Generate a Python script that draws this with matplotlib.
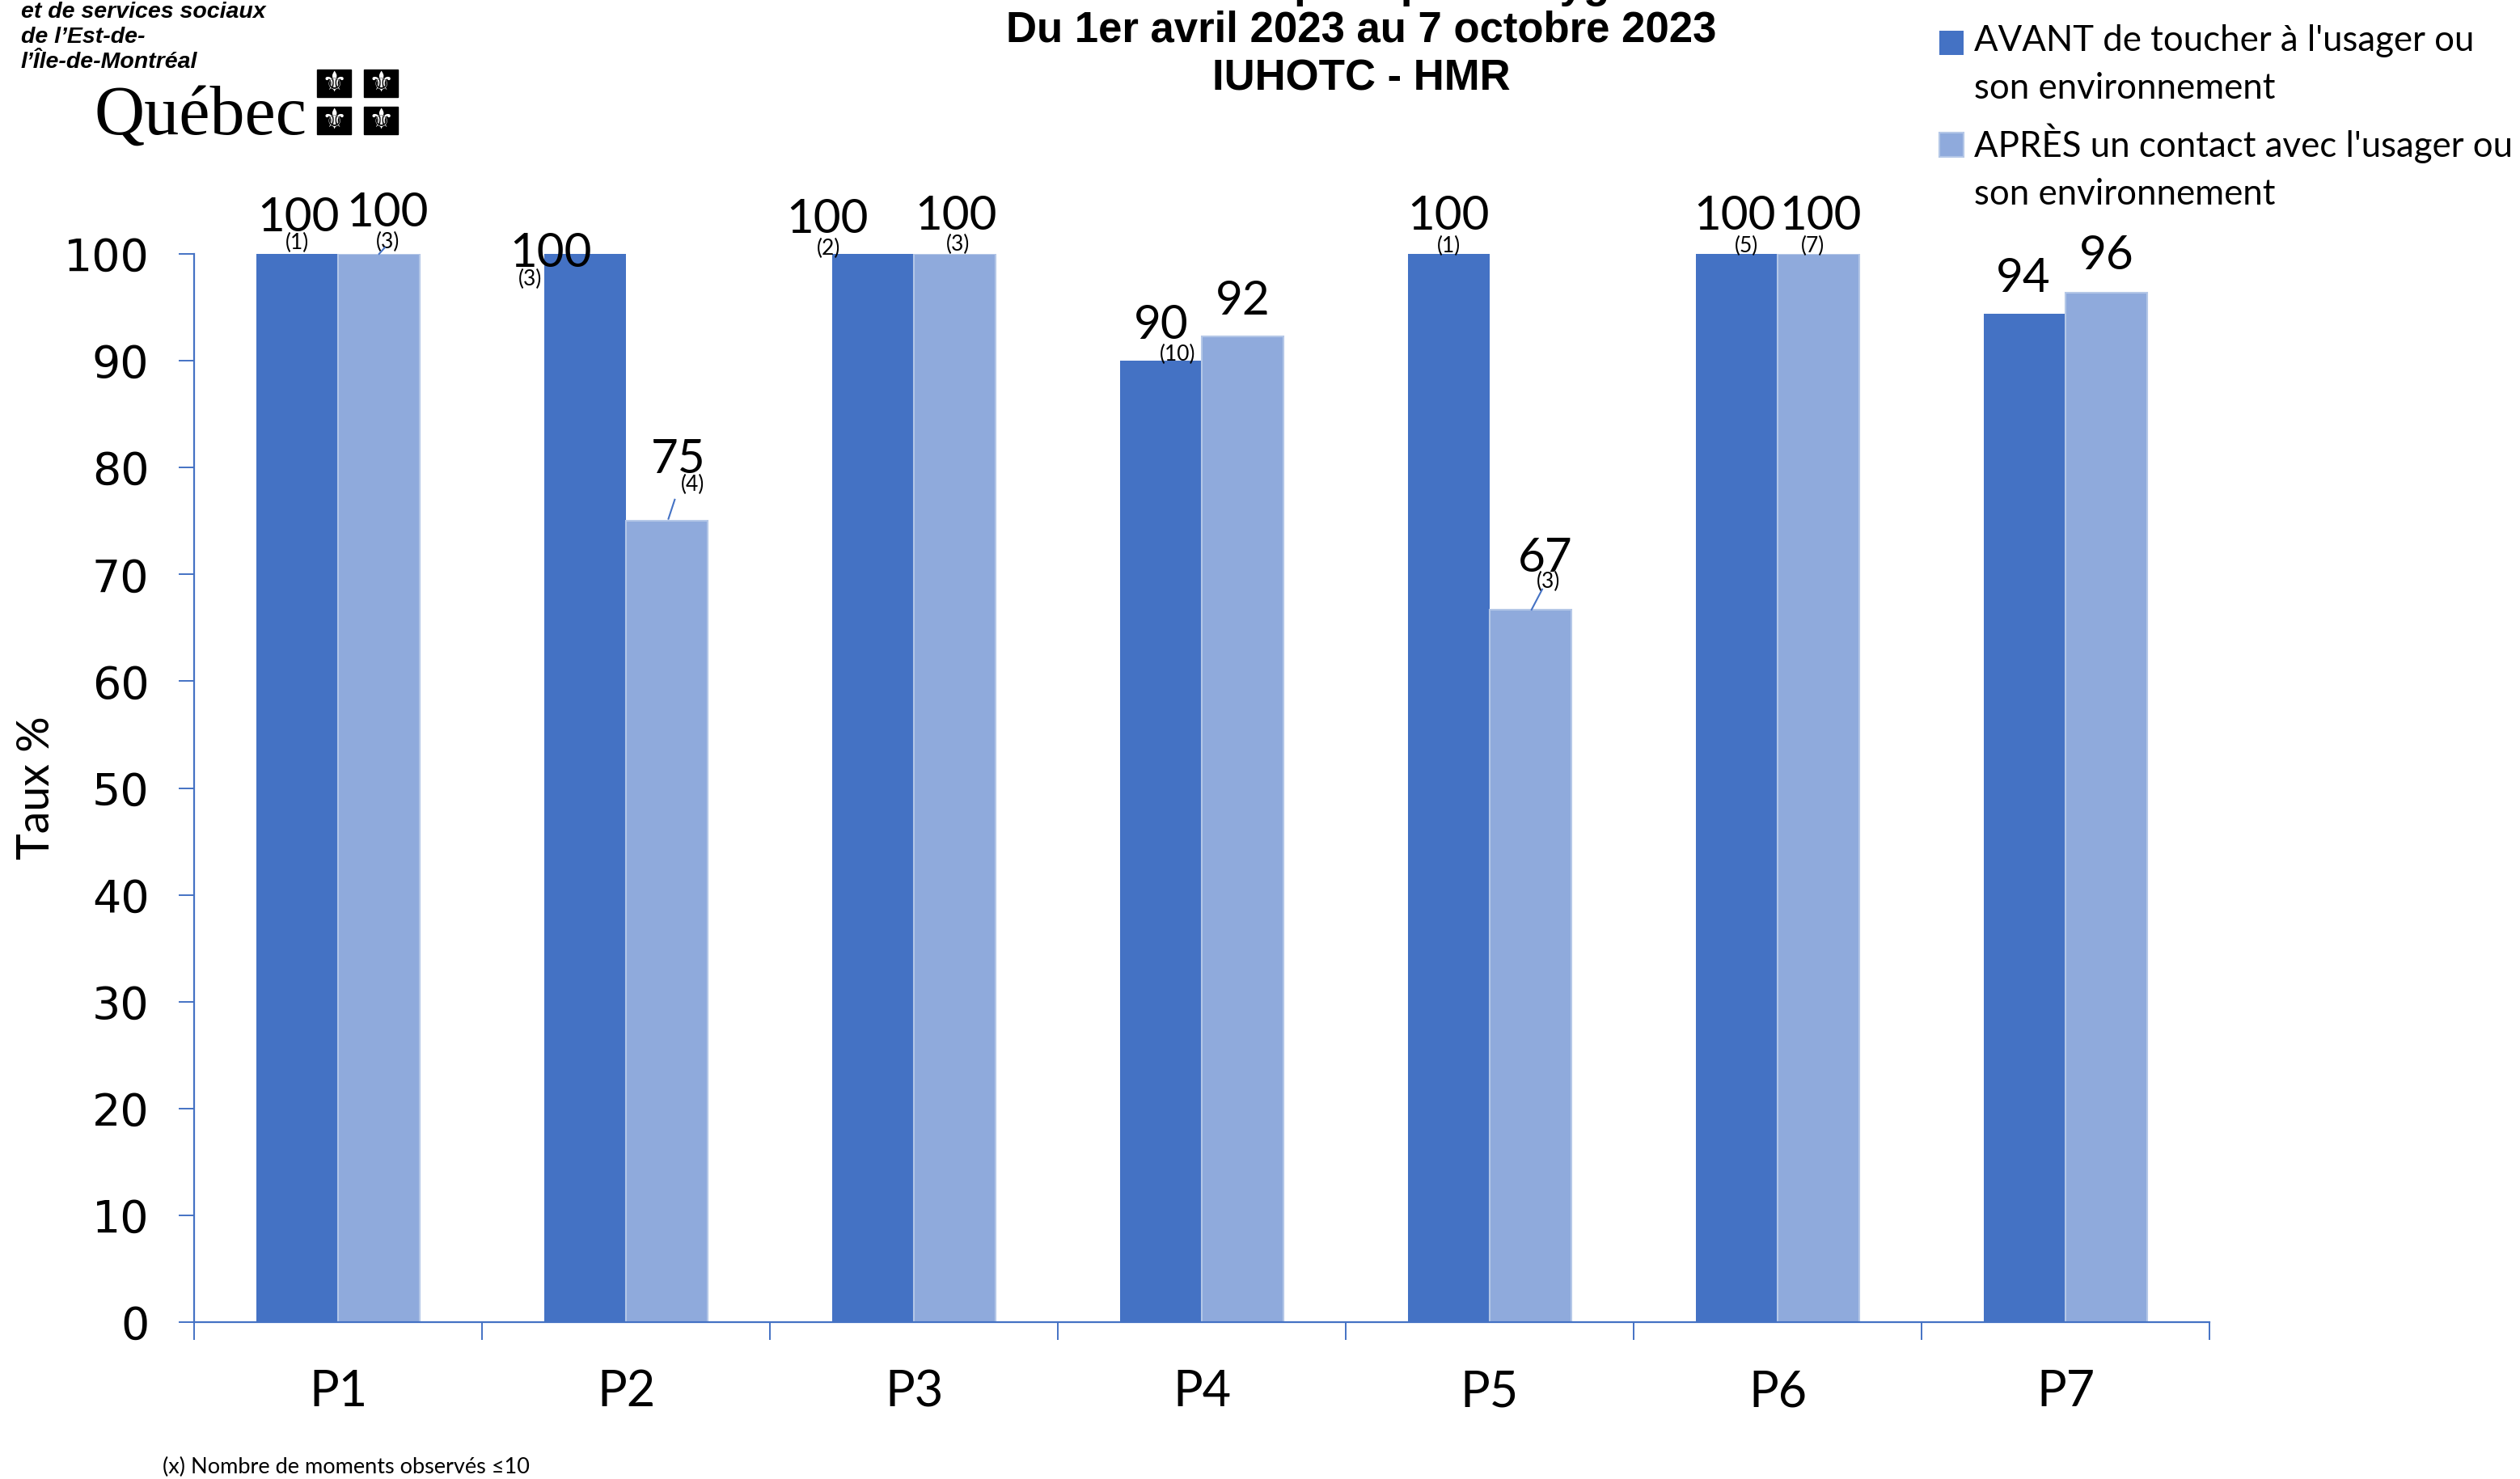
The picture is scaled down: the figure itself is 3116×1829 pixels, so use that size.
import matplotlib
matplotlib.use('Agg')
import matplotlib.pyplot as plt
import numpy as np
from matplotlib import font_manager
from matplotlib.patches import Rectangle
from matplotlib.legend_handler import HandlerPatch

# données
cats = ['P1', 'P2', 'P3', 'P4', 'P5', 'P6', 'P7']
avant = [100, 100, 100, 90, 100, 100, 94.4]
apres = [100, 75, 100, 92.3, 66.7, 100, 96.4]
n_avant = ['(1)', '(3)', '(2)', '(10)', '(1)', '(5)', '']
n_apres = ['(3)', '(4)', '(3)', '', '(3)', '(7)', '']
yticks = [0, 10, 20, 30, 40, 50, 60, 70, 80, 90, 100]
lab_avant = "AVANT de toucher à l'usager ou\nson environnement"
lab_apres = "APRÈS un contact avec l'usager ou\nson environnement"

# position des étiquettes (dx par rapport au centre de la barre, dy au-dessus)
off_avant = [(0.005, 3.4, 0, 1.0), (-0.12, 0.0, -0.19, -2.4), (-0.158, 3.2, -0.153, 0.5),
             (0, 3.3, 0.058, 0.6), (0, 3.5, 0, 0.7), (-0.005, 3.5, 0.035, 0.7), (-0.005, 3.3, 0, 0)]
off_apres = [(0.03, 3.8, 0.03, 1.1), (0.04, 5.7, 0.09, 3.4), (0.004, 3.5, 0.01, 0.9),
             (0, 3.3, 0, 0), (0.05, 4.8, 0.06, 2.6), (0.007, 3.5, -0.02, 0.7), (0, 3.4, 0, 0)]
leaders = {0: (0.02, 0.6, 0.0, 0.0), 1: (0.027, 2.0, 0.005, 0.2), 4: (0.04, 1.9, 0.003, 0.0)}

names = {f.name for f in font_manager.fontManager.ttflist}
body = 'Lato' if 'Lato' in names else 'DejaVu Sans'
narrow = 'Liberation Sans Narrow' if 'Liberation Sans Narrow' in names else 'Liberation Sans'
title_size = 44 if narrow == 'Liberation Sans Narrow' else 38

W, H = 3116, 1829
c_dark = '#4472C4'
c_light = '#8FAADC'
blue_ax = '#4472C4'

fig = plt.figure(figsize=(W / 100, H / 100), dpi=100)
ax = fig.add_axes([240 / W, 1 - 1635 / H, (2732 - 240) / W, (1635 - 314) / H])

x = np.arange(len(cats))
bw = 0.285
b1 = ax.bar(x - bw / 2, avant, bw, color=c_dark, linewidth=0, zorder=2)
b2 = ax.bar(x + bw / 2, apres, bw, color=c_light, edgecolor='#b4c7e7', linewidth=1.5, zorder=2)

ax.set_xlim(-0.5, len(cats) - 0.5)
ax.set_ylim(0, 100)
for s in ['top', 'right']:
    ax.spines[s].set_visible(False)
for s in ['left', 'bottom']:
    ax.spines[s].set_color(blue_ax)
    ax.spines[s].set_linewidth(1.6)

ax.set_yticks(yticks)
ax.set_yticklabels([str(v) for v in yticks], fontsize=40, family='DejaVu Sans')
ax.tick_params(axis='y', direction='out', length=14, width=1.4, color=blue_ax, pad=26)

ax.set_xticks(np.arange(-0.5, len(cats), 1.0))
ax.set_xticklabels([])
ax.tick_params(axis='x', which='major', direction='out', length=16, width=1.4, color=blue_ax)
ax.set_xticks(x, minor=True)
ax.set_xticklabels(cats, minor=True, fontsize=44, family=body)
ax.tick_params(axis='x', which='minor', length=0, pad=42)

ax.set_ylabel('Taux %', fontsize=40, family=body)
ax.yaxis.set_label_coords(-0.068, 0.5)

# étiquettes de valeur
for i in range(len(cats)):
    for vals, ns, offs, xc in [(avant, n_avant, off_avant, x[i] - bw / 2),
                               (apres, n_apres, off_apres, x[i] + bw / 2)]:
        dxv, dyv, dxc, dyc = offs[i]
        ax.text(xc + dxv, vals[i] + dyv, f'{vals[i]:.0f}', ha='center', va='center',
                fontsize=42, family=body, clip_on=False, zorder=4)
        if ns[i]:
            ax.text(xc + dxc, vals[i] + dyc, ns[i], ha='center', va='center',
                    fontsize=19, family=body, clip_on=False, zorder=4)
    if i in leaders:
        lx1, ly1, lx2, ly2 = leaders[i]
        xc = x[i] + bw / 2
        ax.plot([xc + lx1, xc + lx2], [apres[i] + ly1, apres[i] + ly2], color=blue_ax,
                lw=1.5, clip_on=False, zorder=5)


def top_square(legend, orig_handle, xdescent, ydescent, width, height, fontsize):
    return Rectangle((-xdescent, -ydescent + 0.65 * fontsize), width, width)


h1, h2 = b1.patches[0], b2.patches[0]
hp = HandlerPatch(patch_func=top_square)
leg = ax.legend([h1, h2], [lab_avant, lab_apres], loc='upper left',
                bbox_to_anchor=(2398 / W, 1 - 30 / H), bbox_transform=fig.transFigure,
                frameon=False, prop={'family': body, 'size': 31.5}, handlelength=0.68,
                handleheight=0.68, handletextpad=0.3, labelspacing=0.5, borderpad=0,
                borderaxespad=0, handler_map={h1: hp, h2: hp})
for t in leg.get_texts():
    t.set_linespacing(1.55)

# titre
fig.text(1683 / W, 1.0018, "Taux de conformité aux pratiques d'hygiène des mains", ha='center',
         va='baseline', fontsize=title_size, family=narrow, weight='bold')
fig.text(1683 / W, 1 - 37 / H, 'Du 1er avril 2023 au 7 octobre 2023', ha='center', va='center',
         fontsize=title_size, family=narrow, weight='bold')
fig.text(1683 / W, 1 - 97 / H, 'IUHOTC - HMR', ha='center', va='center',
         fontsize=title_size, family=narrow, weight='bold')

# logo
for j, ln in enumerate(['et de services sociaux', "de l’Est-de-", "l’Île-de-Montréal"]):
    fig.text(26 / W, 1 - (15 + 31 * j) / H, ln, ha='left', va='center', fontsize=20.5,
             family='Liberation Sans', weight='bold', style='italic')
fig.text(116 / W, 1 - 166 / H, 'Québec', ha='left', va='baseline', fontsize=62,
         family='Liberation Serif')
for (x0, y0) in [(392, 86), (450, 86), (392, 132), (450, 132)]:
    fig.add_artist(Rectangle((x0 / W, 1 - (y0 + 34) / H), 42 / W, 34 / H,
                             transform=fig.transFigure, color='black'))
    fig.text((x0 + 21) / W, 1 - (y0 + 17) / H, '⚜', ha='center', va='center', fontsize=25,
             color='white', family='DejaVu Sans')

fig.text(201 / W, 1 - 1814 / H, '(x) Nombre de moments observés ≤10', ha='left', va='center',
         fontsize=19.5, family=[body, 'DejaVu Sans'])

fig.savefig('out.png', dpi=100)
